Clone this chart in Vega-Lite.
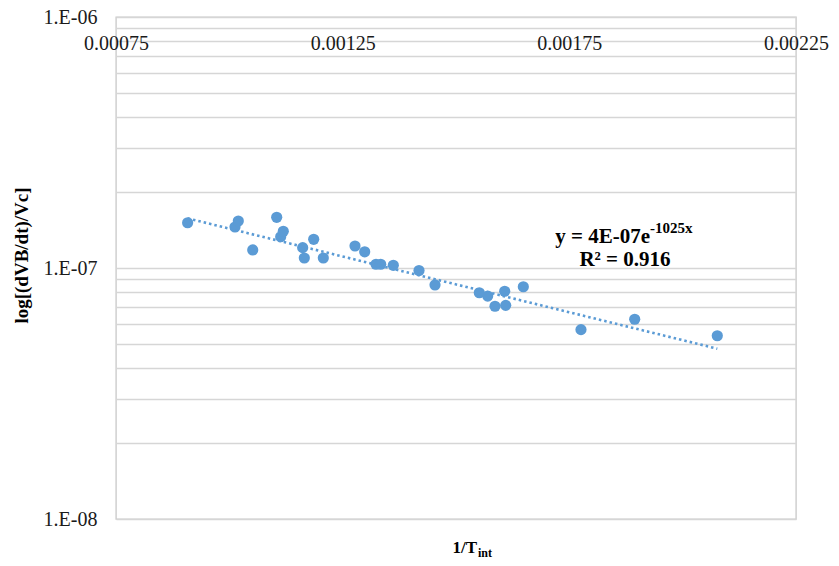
{
  "$schema": "https://vega.github.io/schema/vega-lite/v6.json",
  "description": "Arrhenius-type plot of log[(dVB/dt)/Vc] against 1/Tint with exponential trendline",
  "width": 680,
  "height": 502,
  "autosize": {"type": "none"},
  "padding": {"left": 116, "top": 17, "right": 43, "bottom": 47},
  "background": "white",
  "config": {
    "view": {"stroke": "#cccccc", "strokeWidth": 1.4},
    "font": "Liberation Serif"
  },
  "encoding": {
    "x": {
      "field": "inv_t",
      "type": "quantitative",
      "scale": {"domain": [0.00075, 0.00225], "zero": false, "nice": false},
      "axis": {
        "orient": "top",
        "values": [0.00075, 0.00125, 0.00175, 0.00225],
        "format": ".5f",
        "grid": false,
        "domain": false,
        "ticks": false,
        "tickSize": 0,
        "labelPadding": -32,
        "labelBaseline": "alphabetic",
        "labelFont": "Liberation Serif",
        "labelFontSize": 20,
        "labelColor": "#1a1a1a",
        "labelFlush": false,
        "labelOverlap": false,
        "title": null
      }
    },
    "y": {
      "field": "rate",
      "type": "quantitative",
      "scale": {"type": "log", "domain": [1e-8, 1e-6], "nice": false},
      "axis": {
        "values": [1e-8, 2e-8, 3e-8, 4e-8, 5e-8, 6e-8, 7e-8, 8e-8, 9e-8, 1e-7, 2e-7, 3e-7, 4e-7, 5e-7, 6e-7, 7e-7, 8e-7, 9e-7, 1e-6],
        "labelExpr": "datum.value == 1e-6 ? '1.E-06' : datum.value == 1e-7 ? '1.E-07' : datum.value == 1e-8 ? '1.E-08' : ''",
        "grid": true,
        "gridColor": "#d6d6d6",
        "gridWidth": 1.4,
        "domain": false,
        "ticks": false,
        "tickSize": 0,
        "labelPadding": 19,
        "labelFont": "Liberation Serif",
        "labelFontSize": 20,
        "labelColor": "#1a1a1a",
        "labelFlush": false,
        "labelOverlap": false,
        "title": "log[(dVB/dt)/Vc]",
        "titleFont": "Liberation Serif",
        "titleFontSize": 19,
        "titleFontWeight": "bold",
        "titleColor": "black",
        "titleAngle": -90,
        "titleAlign": "center",
        "titleBaseline": "middle",
        "titleX": -95,
        "titleY": 238
      }
    }
  },
  "layer": [
    {
      "data": {
        "values": [
          {"inv_t": 0.000908, "rate": 1.515e-7},
          {"inv_t": 0.0010125, "rate": 1.457e-7},
          {"inv_t": 0.0010198, "rate": 1.539e-7},
          {"inv_t": 0.0010516, "rate": 1.18e-7},
          {"inv_t": 0.0011045, "rate": 1.592e-7},
          {"inv_t": 0.0011133, "rate": 1.332e-7},
          {"inv_t": 0.001119, "rate": 1.40e-7},
          {"inv_t": 0.0011618, "rate": 1.205e-7},
          {"inv_t": 0.0011654, "rate": 1.096e-7},
          {"inv_t": 0.0011861, "rate": 1.301e-7},
          {"inv_t": 0.0012073, "rate": 1.096e-7},
          {"inv_t": 0.0012772, "rate": 1.224e-7},
          {"inv_t": 0.0012986, "rate": 1.16e-7},
          {"inv_t": 0.0013235, "rate": 1.035e-7},
          {"inv_t": 0.0013339, "rate": 1.035e-7},
          {"inv_t": 0.0013617, "rate": 1.025e-7},
          {"inv_t": 0.0014184, "rate": 9.77e-8},
          {"inv_t": 0.0014537, "rate": 8.56e-8},
          {"inv_t": 0.0015514, "rate": 7.97e-8},
          {"inv_t": 0.0015699, "rate": 7.73e-8},
          {"inv_t": 0.001586, "rate": 7.04e-8},
          {"inv_t": 0.0016074, "rate": 8.08e-8},
          {"inv_t": 0.0016096, "rate": 7.10e-8},
          {"inv_t": 0.0016485, "rate": 8.42e-8},
          {"inv_t": 0.0017757, "rate": 5.68e-8},
          {"inv_t": 0.0018942, "rate": 6.25e-8},
          {"inv_t": 0.0020764, "rate": 5.37e-8}
        ]
      },
      "mark": {"type": "circle", "size": 125, "opacity": 1, "color": "#5b9bd5"}
    },
    {
      "data": {
        "values": [
          {"inv_t": 0.000908, "rate": 1.577e-7},
          {"inv_t": 0.0020764, "rate": 4.77e-8}
        ]
      },
      "mark": {"type": "line", "color": "#5b9bd5", "strokeWidth": 2.6, "strokeDash": [2.5, 3]}
    },
    {
      "data": {"values": [{"inv_t": 0.001928, "rate": 1.261e-7, "label": "y = 4E-07e"}]},
      "mark": {"type": "text", "align": "right", "baseline": "alphabetic", "font": "Liberation Serif", "fontSize": 21, "fontWeight": "bold", "color": "black"},
      "encoding": {"text": {"field": "label"}}
    },
    {
      "data": {"values": [{"inv_t": 0.001928, "rate": 1.261e-7, "label": "-1025x"}]},
      "mark": {"type": "text", "align": "left", "baseline": "alphabetic", "dy": -10, "font": "Liberation Serif", "fontSize": 15, "fontWeight": "bold", "color": "black"},
      "encoding": {"text": {"field": "label"}}
    },
    {
      "data": {"values": [{"inv_t": 0.0018728, "rate": 1.0186e-7, "label": "R² = 0.916"}]},
      "mark": {"type": "text", "align": "center", "baseline": "alphabetic", "font": "Liberation Serif", "fontSize": 21, "fontWeight": "bold", "color": "black"},
      "encoding": {"text": {"field": "label"}}
    },
    {
      "data": {"values": [{"inv_t": 0.0015463, "rate": 1e-8, "label": "1/T"}]},
      "mark": {"type": "text", "align": "right", "baseline": "alphabetic", "dy": 34, "font": "Liberation Serif", "fontSize": 17, "fontWeight": "bold", "color": "black"},
      "encoding": {"text": {"field": "label"}}
    },
    {
      "data": {"values": [{"inv_t": 0.0015463, "rate": 1e-8, "label": "int"}]},
      "mark": {"type": "text", "align": "left", "baseline": "alphabetic", "dx": 1, "dy": 38, "font": "Liberation Serif", "fontSize": 12, "fontWeight": "bold", "color": "black"},
      "encoding": {"text": {"field": "label"}}
    }
  ]
}
